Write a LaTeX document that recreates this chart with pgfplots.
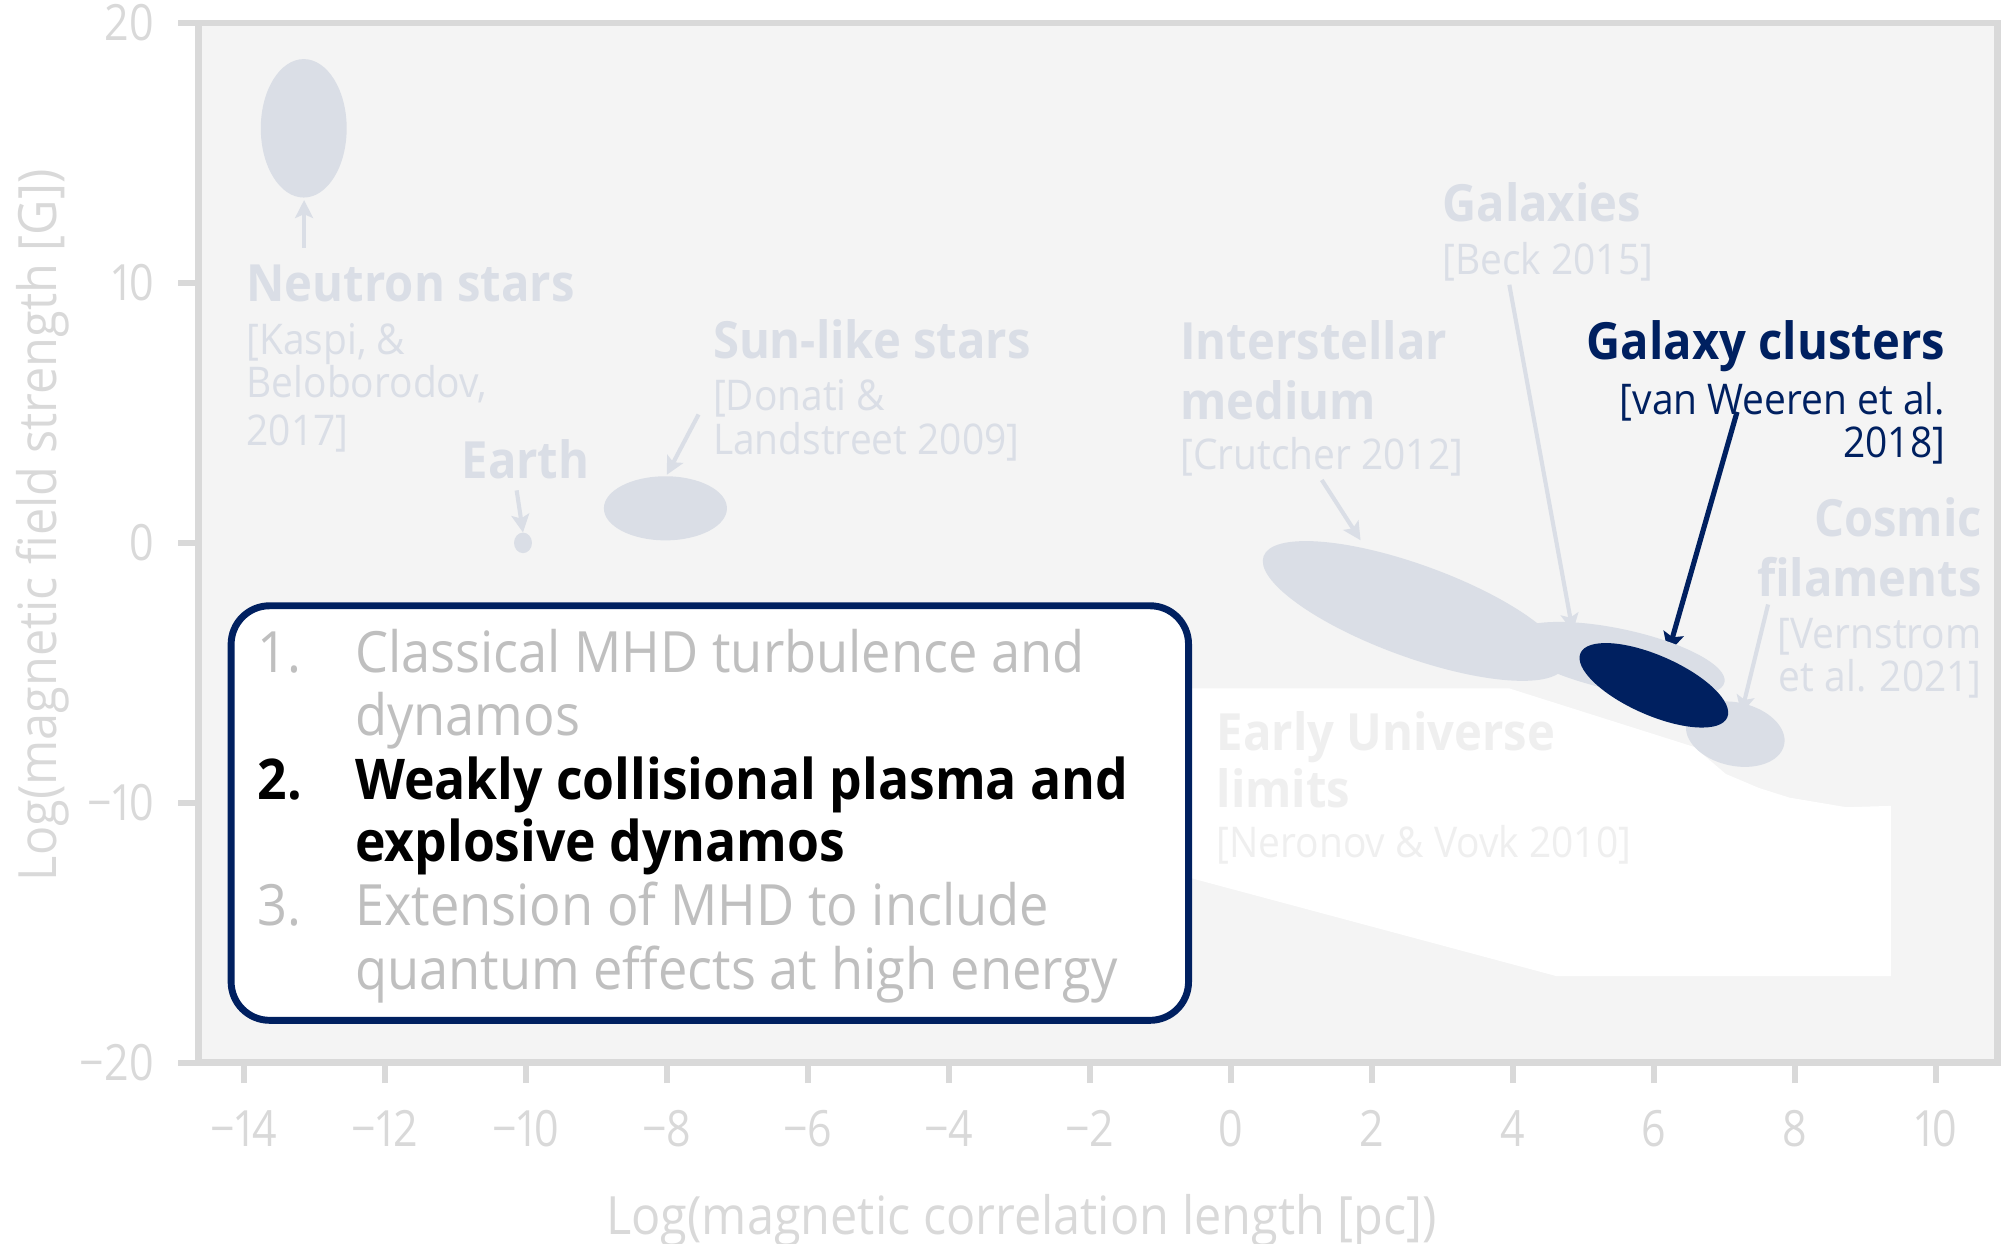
\documentclass[border=0pt]{standalone}
\usepackage{fontspec}
\setmainfont{Open Sans}[FakeStretch=0.92]
\newfontfamily\tickfam{Open Sans}[FakeStretch=0.86, Numbers=Proportional]
\usepackage{pgfplots}
\pgfplotsset{compat=1.18}
\usepackage{pgfplotstable}
\usetikzlibrary{shapes.geometric, arrows.meta}

\definecolor{ellgray}{RGB}{218,222,230}
\definecolor{navy}{RGB}{0,32,96}
\definecolor{framegray}{RGB}{217,217,217}
\definecolor{bggray}{RGB}{244,244,244}
\definecolor{boxgray}{RGB}{191,191,191}
\definecolor{faint}{RGB}{239,239,239}

\newcommand{\tickfont}{\tickfam\fontsize{19.5}{21}\selectfont}
\newcommand{\axlabelfont}{\fontsize{20.6}{23}\selectfont}
\newcommand{\lblfont}{\fontsize{20}{24}\selectfont\bfseries}
\newcommand{\citefont}{\fontsize{16.5}{19}\selectfont}
\newcommand{\boxfont}{\fontsize{22.2}{25}\selectfont}
\newcommand{\boxboldfont}{\fontsize{21.9}{25}\selectfont\bfseries}

% early universe limits (white area)
\pgfplotstableread{
x      y
-1.09  -5.60
3.95   -5.60
6.57   -7.85
7.02   -8.89
7.49   -9.43
7.92   -9.80
8.73   -10.17
9.36   -10.12
9.36   -16.67
4.62   -16.67
-0.55  -12.91
-1.09  -12.52
}\earlylimits

% region drawn as an ellipse at the data point: colour, width, height, rotation
\pgfplotsset{
    region/.style n args={4}{
        draw=none, mark=none, nodes near coords={}, nodes near coords align={center},
        every node near coord/.style={ellipse, fill=#1, draw=none, inner sep=0pt, outer sep=0pt,
            minimum width=#2, minimum height=#3, rotate=#4, anchor=center},
    },
    lightarrow/.style={ellgray, line width=1.6pt, -{Stealth[length=7pt, width=7pt, inset=1.5pt]}},
}
\tikzset{txt/.style={inner sep=0pt, outer sep=0pt}}

\begin{document}
\begin{tikzpicture}
\useasboundingbox (0,0) rectangle (784pt,485pt);
\begin{axis}[
    at={(77.5pt,70.5pt)}, anchor=south west,
    scale only axis, width=701.5pt, height=405.5pt,
    xmin=-14.64, xmax=10.87, ymin=-20, ymax=20,
    axis background/.style={fill=bggray},
    axis line style={framegray, line width=2.6pt},
    xtick={-14,-12,...,10}, ytick={-20,-10,0,10,20},
    xticklabels={−14,−12,−10,−8,−6,−4,−2,0,2,4,6,8,10},
    yticklabels={−20,−10,0,10,20},
    tick align=outside, major tick length=8pt,
    tick style={framegray, line width=2.4pt},
    xtick pos=bottom, ytick pos=left,
    ticklabel style={font=\tickfont, text=framegray},
    xticklabel style={yshift=-7pt},
    yticklabel style={xshift=-6pt},
    xlabel={Log(magnetic correlation length [pc])},
    ylabel={Log(magnetic field strength [G])},
    label style={font=\axlabelfont, text=framegray},
    xlabel style={at={(axis description cs:0.4576,-0.152)}, anchor=center},
    ylabel style={at={(axis description cs:-0.087,0.517)}, anchor=center},
    clip=false,
]

% white area
\addplot[fill=white, draw=none] table[x=x, y=y] {\earlylimits} -- cycle;

% regions
\addplot[region={ellgray}{33.5pt}{54pt}{0}] coordinates {(-13.15,15.95)};
\addplot[region={ellgray}{7pt}{8pt}{0}] coordinates {(-10.04,0)};
\addplot[region={ellgray}{48pt}{25pt}{0}] coordinates {(-8.02,1.33)};
\addplot[region={ellgray}{125pt}{36pt}{-20}] coordinates {(2.60,-2.62)};
\addplot[region={ellgray}{85pt}{24pt}{-12}] coordinates {(5.49,-4.49)};
\addplot[region={ellgray}{39pt}{24.7pt}{-12.4}] coordinates {(7.155,-7.36)};
\addplot[region={navy}{62.5pt}{23.3pt}{-23.7}] coordinates {(6.00,-5.48)};

% arrows
\addplot[lightarrow] coordinates {(-13.145,11.36) (-13.145,13.19)};
\addplot[lightarrow] coordinates {(-10.13,2.02) (-10.04,0.40)};
\addplot[lightarrow] coordinates {(-7.55,4.94) (-8.00,2.62)};
\addplot[lightarrow] coordinates {(1.29,2.42) (1.84,0.10)};
\addplot[lightarrow] coordinates {(3.95,9.93) (4.85,-3.41)};
\addplot[lightarrow] coordinates {(7.62,-2.37) (7.24,-6.57)};
\addplot[navy, line width=2pt, -{Stealth[length=8pt, width=8pt, inset=1.5pt]}] coordinates {(7.18,5.04) (6.20,-4.25)};

% labels
\node[txt, anchor=base west, text=ellgray, font=\lblfont] at (axis cs:-13.96,9.28) {Neutron stars};
\node[txt, anchor=base west, text=ellgray, font=\citefont] at (axis cs:-13.96,7.26) {[Kaspi, \&};
\node[txt, anchor=base west, text=ellgray, font=\citefont] at (axis cs:-13.96,5.58) {Beloborodov,};
\node[txt, anchor=base west, text=ellgray, font=\citefont] at (axis cs:-13.96,3.75) {2017]};

\node[txt, anchor=base west, text=ellgray, font=\lblfont] at (axis cs:-10.91,2.47) {Earth};

\node[txt, anchor=base west, text=ellgray, font=\lblfont] at (axis cs:-7.345,7.11) {Sun-like stars};
\node[txt, anchor=base west, text=ellgray, font=\citefont] at (axis cs:-7.345,5.09) {[Donati \&};
\node[txt, anchor=base west, text=ellgray, font=\citefont] at (axis cs:-7.345,3.41) {Landstreet 2009]};

\node[txt, anchor=base west, text=ellgray, font=\lblfont] at (axis cs:-0.718,7.06) {Interstellar};
\node[txt, anchor=base west, text=ellgray, font=\lblfont] at (axis cs:-0.718,4.74) {medium};
\node[txt, anchor=base west, text=ellgray, font=\citefont] at (axis cs:-0.718,2.84) {[Crutcher 2012]};

\node[txt, anchor=base west, text=ellgray, font=\lblfont] at (axis cs:3.0,12.35) {Galaxies};
\node[txt, anchor=base west, text=ellgray, font=\citefont] at (axis cs:3.0,10.32) {[Beck 2015]};

\node[txt, anchor=base east, text=navy, font=\lblfont] at (axis cs:10.13,7.06) {Galaxy clusters};
\node[txt, anchor=base east, text=navy, font=\citefont] at (axis cs:10.13,4.95) {[van Weeren et al.};
\node[txt, anchor=base east, text=navy, font=\citefont] at (axis cs:10.13,3.28) {2018]};

\node[txt, anchor=base east, text=ellgray, font=\lblfont] at (axis cs:10.65,0.25) {Cosmic};
\node[txt, anchor=base east, text=ellgray, font=\lblfont] at (axis cs:10.65,-2.07) {filaments};
\node[txt, anchor=base east, text=ellgray, font=\citefont] at (axis cs:10.65,-4.07) {[Vernstrom};
\node[txt, anchor=base east, text=ellgray, font=\citefont] at (axis cs:10.65,-5.73) {et al. 2021]};

\node[txt, anchor=base west, text=faint, font=\lblfont] at (axis cs:-0.2,-8.0) {Early Universe};
\node[txt, anchor=base west, text=faint, font=\lblfont] at (axis cs:-0.2,-10.17) {limits};
\node[txt, anchor=base west, text=faint, font=\citefont] at (axis cs:-0.2,-12.1) {[Neronov \& Vovk 2010]};

% research themes box
\draw[navy, line width=2.7pt, fill=white, rounded corners=15pt] (axis cs:-14.18,-2.42) rectangle (axis cs:-0.6,-18.37);
\node[txt, anchor=base west, text=boxgray, font=\boxfont] at (axis cs:-13.8,-4.99) {1.};
\node[txt, anchor=base west, text=boxgray, font=\boxfont] at (axis cs:-12.42,-4.99) {Classical MHD turbulence and};
\node[txt, anchor=base west, text=boxgray, font=\boxfont] at (axis cs:-12.42,-7.43) {dynamos};
\node[txt, anchor=base west, text=black, font=\boxboldfont] at (axis cs:-13.8,-9.86) {2.};
\node[txt, anchor=base west, text=black, font=\boxboldfont] at (axis cs:-12.42,-9.86) {Weakly collisional plasma and};
\node[txt, anchor=base west, text=black, font=\boxboldfont] at (axis cs:-12.42,-12.25) {explosive dynamos};
\node[txt, anchor=base west, text=boxgray, font=\boxfont] at (axis cs:-13.8,-14.74) {3.};
\node[txt, anchor=base west, text=boxgray, font=\boxfont] at (axis cs:-12.42,-14.74) {Extension of MHD to include};
\node[txt, anchor=base west, text=boxgray, font=\boxfont] at (axis cs:-12.42,-17.17) {quantum effects at high energy};

\end{axis}
\end{tikzpicture}
\end{document}
